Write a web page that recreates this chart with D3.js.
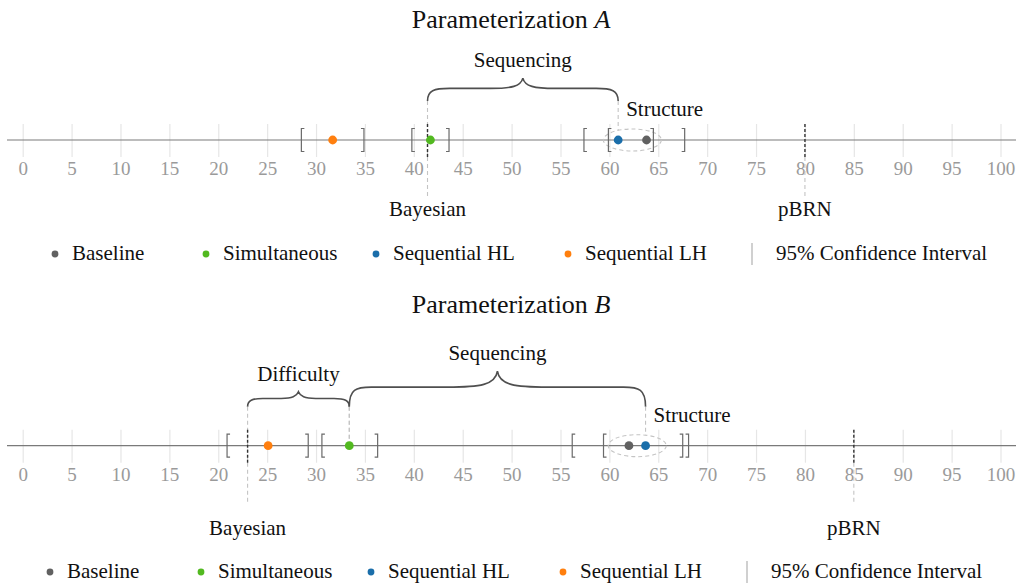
<!DOCTYPE html>
<html>
<head>
<meta charset="utf-8">
<script src="https://cdn.jsdelivr.net/npm/d3@7"></script>
<style>
	body { margin: 0; background: #fff; }
	svg { display: block; font-family: "Liberation Serif", "Times New Roman", serif; }
</style>
</head>
<body>
<div id="chart-holder"></div>
<script>
// series and colours
const series = ['Baseline', 'Simultaneous', 'Sequential HL', 'Sequential LH'];
const colors = ['#616161', '#52b920', '#1a6eaa', '#ff7f0e'];
const tickValues = [0, 5, 10, 15, 20, 25, 30, 35, 40, 45, 50, 55, 60, 65, 70, 75, 80, 85, 90, 95, 100];

// Parameterization A
const meanA = [63.8, 41.7, 60.9, 31.7];
const lowA = [59.9, 39.8, 57.4, 28.5];
const highA = [67.7, 43.6, 64.5, 34.9];
const bayesianA = 41.4;
const pbrnA = 80;
const bracesA = [['Sequencing', 'Bayesian', 'Sequential HL']];

// Parameterization B
const meanB = [62.0, 33.4, 63.7, 25.1];
const lowB = [56.2, 30.6, 59.4, 20.9];
const highB = [67.5, 36.3, 68.1, 29.2];
const bayesianB = 23.0;
const pbrnB = 85;
const bracesB = [['Difficulty', 'Bayesian', 'Simultaneous'], ['Sequencing', 'Simultaneous', 'Sequential HL']];

// legend column positions (layout only)
const legendCols = [55, 206, 376, 568, 752];

const width = 1016, height = 584;
const serif = '"Liberation Serif", "Times New Roman", serif';

const svg = d3.select('#chart-holder').append('svg')
	.attr('width', width)
	.attr('height', height);

const xScale = d3.scaleLinear().domain([0, 100]).range([22.7, 1000.5]);

function bracePath(x1, x2, yEnd) {
	const w = x2 - x1;
	const h = Math.max(15, w * 0.12);
	const yFlat = yEnd - h * 0.55;
	const yTip = yEnd - h;
	const xm = (x1 + x2) / 2;
	const r = Math.min(22, w * 0.15);
	const s = w * 0.17;
	return 'M' + x1 + ',' + yEnd +
		'C' + x1 + ',' + (yFlat + 2) + ' ' + (x1 + r * 0.3) + ',' + yFlat + ' ' + (x1 + r) + ',' + yFlat +
		'L' + (xm - s) + ',' + yFlat +
		'C' + (xm - s * 0.35) + ',' + yFlat + ' ' + (xm - 2) + ',' + (yFlat - 2) + ' ' + xm + ',' + yTip +
		'C' + (xm + 2) + ',' + (yFlat - 2) + ' ' + (xm + s * 0.35) + ',' + yFlat + ' ' + (xm + s) + ',' + yFlat +
		'L' + (x2 - r) + ',' + yFlat +
		'C' + (x2 - r * 0.3) + ',' + yFlat + ' ' + x2 + ',' + (yFlat + 2) + ' ' + x2 + ',' + yEnd;
}

function drawPanel(p) {
	const g = svg.append('g').attr('class', 'panel');
	const y = p.axisY;
	const pos = key => key === 'Bayesian' ? p.bayesian : p.mean[series.indexOf(key)];

	// title
	const title = g.append('text')
		.attr('x', 511).attr('y', p.titleY)
		.attr('text-anchor', 'middle')
		.attr('font-size', 26)
		.attr('fill', '#111');
	title.append('tspan').text('Parameterization ');
	title.append('tspan').attr('font-style', 'italic').text(p.name);

	// axis with grid ticks
	const xAxis = d3.axisBottom(xScale).tickValues(tickValues).tickSize(0);
	const axisG = g.append('g')
		.attr('transform', 'translate(0,' + y + ')')
		.call(xAxis)
		.attr('font-family', serif)
		.attr('font-size', 19);
	axisG.select('.domain').remove();
	axisG.selectAll('.tick line')
		.attr('y1', -16).attr('y2', 17)
		.attr('stroke', '#e6e6e6').attr('stroke-width', 1.2);
	axisG.selectAll('.tick text')
		.attr('y', 35).attr('dy', 0)
		.attr('fill', '#9a9a9a');
	g.append('line')
		.attr('x1', 7).attr('x2', width)
		.attr('y1', y).attr('y2', y)
		.attr('stroke', '#7a7a7a').attr('stroke-width', 1.2);

	// structure ellipse
	const ecx = xScale((p.mean[0] + p.mean[2]) / 2);
	const erx = 29, ery = 11;
	g.append('ellipse')
		.attr('cx', ecx).attr('cy', y)
		.attr('rx', erx).attr('ry', ery)
		.attr('fill', 'none')
		.attr('stroke', '#c4c4c4')
		.attr('stroke-dasharray', '4,3')
		.attr('stroke-width', 1.1);
	g.append('text')
		.attr('x', xScale(p.mean[2]) + 8)
		.attr('y', y - 24)
		.attr('font-size', 21)
		.attr('fill', '#111')
		.text('Structure');

	// braces
	const braceEnd = y - 39;
	p.braces.forEach(b => {
		const x1 = xScale(pos(b[1]));
		const x2 = xScale(pos(b[2]));
		const h = Math.max(15, (x2 - x1) * 0.12);
		g.append('path')
			.attr('d', bracePath(x1, x2, braceEnd))
			.attr('fill', 'none')
			.attr('stroke', '#4f4f4f')
			.attr('stroke-width', 1.6);
		g.append('text')
			.attr('x', (x1 + x2) / 2)
			.attr('y', braceEnd - h - 11)
			.attr('text-anchor', 'middle')
			.attr('font-size', 21)
			.attr('fill', '#111')
			.text(b[0]);
		// connectors from brace ends to points
		[b[1], b[2]].filter(k => k !== 'Bayesian').forEach(k => {
			const xx = xScale(pos(k));
			let yStop = y - 5;
			if (k === 'Sequential HL' || k === 'Baseline') {
				const dx = (xx - ecx) / erx;
				yStop = y - ery * Math.sqrt(Math.max(0, 1 - dx * dx));
			}
			g.append('line')
				.attr('x1', xx).attr('x2', xx)
				.attr('y1', braceEnd).attr('y2', yStop)
				.attr('stroke', '#c4c4c4')
				.attr('stroke-dasharray', '4,3')
				.attr('stroke-width', 1.1);
		});
	});

	// reference lines: Bayesian and pBRN
	const refs = [
		{label: 'Bayesian', value: p.bayesian, top: braceEnd},
		{label: 'pBRN', value: p.pbrn, top: y + 17}
	];
	refs.forEach(r => {
		const xx = xScale(r.value);
		g.append('line')
			.attr('x1', xx).attr('x2', xx)
			.attr('y1', r.top).attr('y2', y + 56)
			.attr('stroke', '#c4c4c4')
			.attr('stroke-dasharray', '4,3')
			.attr('stroke-width', 1.1);
		g.append('line')
			.attr('x1', xx).attr('x2', xx)
			.attr('y1', y - 16).attr('y2', y + 17)
			.attr('stroke', '#333')
			.attr('stroke-dasharray', '3,2')
			.attr('stroke-width', 1.4);
		g.append('text')
			.attr('x', xx)
			.attr('y', y + p.refLabelDy)
			.attr('text-anchor', 'middle')
			.attr('font-size', 21)
			.attr('fill', '#111')
			.text(r.label);
	});

	// confidence interval brackets
	const rows = series.map((s, i) => ({s: s, mean: p.mean[i], low: p.low[i], high: p.high[i], color: colors[i]}));
	g.selectAll('.ci-low').data(rows).enter().append('path')
		.attr('class', 'ci-low')
		.attr('d', d => {
			const xx = xScale(d.low);
			return 'M' + (xx + 3) + ',' + (y - 11.5) + 'H' + xx + 'V' + (y + 11.5) + 'H' + (xx + 3);
		})
		.attr('fill', 'none').attr('stroke', '#6a6a6a').attr('stroke-width', 1.2);
	g.selectAll('.ci-high').data(rows).enter().append('path')
		.attr('class', 'ci-high')
		.attr('d', d => {
			const xx = xScale(d.high);
			return 'M' + (xx - 3) + ',' + (y - 11.5) + 'H' + xx + 'V' + (y + 11.5) + 'H' + (xx - 3);
		})
		.attr('fill', 'none').attr('stroke', '#6a6a6a').attr('stroke-width', 1.2);

	// means
	g.selectAll('.mean').data(rows).enter().append('circle')
		.attr('class', 'mean')
		.attr('cx', d => xScale(d.mean))
		.attr('cy', y)
		.attr('r', 4.4)
		.attr('fill', d => d.color);

	// legend
	const ly = p.legendY;
	const cols = legendCols.map(c => c + p.legendShift);
	series.forEach((s, i) => {
		g.append('circle')
			.attr('cx', cols[i]).attr('cy', ly)
			.attr('r', 3.4)
			.attr('fill', colors[i]);
		g.append('text')
			.attr('x', cols[i] + 17).attr('y', ly + 6)
			.attr('font-size', 21)
			.attr('fill', '#111')
			.text(s);
	});
	g.append('line')
		.attr('x1', cols[4]).attr('x2', cols[4])
		.attr('y1', ly - 11).attr('y2', ly + 11)
		.attr('stroke', '#aaa').attr('stroke-width', 1.1);
	g.append('text')
		.attr('x', cols[4] + 24).attr('y', ly + 6)
		.attr('font-size', 21)
		.attr('fill', '#111')
		.text('95% Confidence Interval');
}

drawPanel({name: 'A', titleY: 28, axisY: 140, mean: meanA, low: lowA, high: highA,
	bayesian: bayesianA, pbrn: pbrnA, braces: bracesA, refLabelDy: 76, legendY: 254, legendShift: 0});
drawPanel({name: 'B', titleY: 313, axisY: 445.7, mean: meanB, low: lowB, high: highB,
	bayesian: bayesianB, pbrn: pbrnB, braces: bracesB, refLabelDy: 89, legendY: 572, legendShift: -5});
</script>
</body>
</html>
